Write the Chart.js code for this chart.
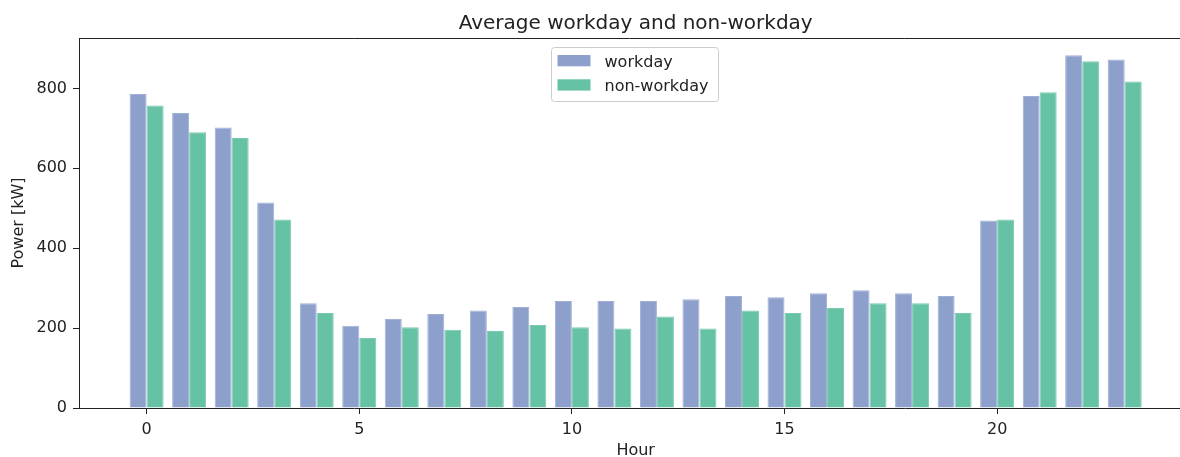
<!DOCTYPE html>
<html>
<head>
<meta charset="utf-8">
<script src="https://cdn.jsdelivr.net/npm/chart.js@4/dist/chart.umd.min.js"></script>
<style>
    html, body { margin: 0; padding: 0; overflow: hidden; background: #fff; }
    canvas { display: block; }
</style>
</head>
<body>
<canvas id="grafico-potencia" width="1180" height="457"></canvas>
<script>
// Dados
const hours = [0, 1, 2, 3, 4, 5, 6, 7, 8, 9, 10, 11, 12, 13, 14, 15, 16, 17, 18, 19, 20, 21, 22, 23]
const workday = [786, 738, 702, 514, 262, 206, 223, 235, 244, 253, 268, 268, 268, 272, 280, 277, 287, 295, 287, 280, 469, 781, 883, 872]
const nonWorkday = [757, 690, 676, 472, 238, 175, 202, 196, 193, 208, 202, 199, 229, 199, 244, 238, 250, 262, 262, 238, 472, 790, 868, 817]
const xTicks = [0, 5, 10, 15, 20]
const yTicks = [0, 200, 400, 600, 800]
const seriesLabels = ['workday', 'non-workday']
const seriesColors = ['#8da0cb', '#66c2a5']
const seriesBorders = ['#a0b0d4', '#7bcab0']
const chartTitle = 'Average workday and non-workday'
const xTitle = 'Hour'
const yTitle = 'Power [kW]'

const textColor = '#222'
Chart.defaults.font.family = '"DejaVu Sans", sans-serif'
Chart.defaults.font.size = 16
Chart.defaults.color = textColor

// Titulo, borda de cima, nome do eixo x e legenda
// (o grafico original esta cortado na direita, entao o centro vem do meio das horas)
const extrasPlugin = {
    id: 'extras',
    afterDraw(chart) {
        const { ctx, chartArea } = chart
        const midHour = (hours[0] + hours[hours.length - 1]) / 2
        const centerX = chart.scales.x.getPixelForValue(midHour)
        ctx.save()

        ctx.strokeStyle = textColor
        ctx.lineWidth = 1
        ctx.beginPath()
        ctx.moveTo(chartArea.left, chartArea.top + 0.5)
        ctx.lineTo(chartArea.right, chartArea.top + 0.5)
        ctx.stroke()

        ctx.fillStyle = textColor
        ctx.font = '20px "DejaVu Sans"'
        ctx.textAlign = 'center'
        ctx.textBaseline = 'alphabetic'
        ctx.fillText(chartTitle, centerX, 29)

        ctx.font = '16px "DejaVu Sans"'
        ctx.fillText(xTitle, centerX, 455)

        // legenda
        const boxW = 167, boxH = 54
        const boxX = Math.round(centerX - boxW / 2) - 0.5
        const boxY = chartArea.top + 9.5
        ctx.beginPath()
        ctx.roundRect(boxX, boxY, boxW, boxH, 3)
        ctx.fillStyle = 'rgba(255,255,255,0.8)'
        ctx.fill()
        ctx.strokeStyle = '#cccccc'
        ctx.stroke()

        ctx.textAlign = 'left'
        chart.data.datasets.forEach((ds, i) => {
            const rowY = boxY + 7.5 + i * 24.3
            ctx.fillStyle = ds.backgroundColor
            ctx.fillRect(boxX + 6, rowY, 33, 11.3)
            ctx.fillStyle = textColor
            ctx.fillText(ds.label, boxX + 53, rowY + 11.5)
        })

        ctx.restore()
    }
}

let myChartPotencia = new Chart(
    document.getElementById('grafico-potencia'),
    {
        type: 'bar',
        data: {
            datasets: [
                {
                    label: seriesLabels[0],
                    data: hours.map((h, i) => ({ x: h, y: workday[i] })),
                    backgroundColor: seriesColors[0],
                    borderColor: seriesBorders[0],
                    borderWidth: 1,
                },
                {
                    label: seriesLabels[1],
                    data: hours.map((h, i) => ({ x: h, y: nonWorkday[i] })),
                    backgroundColor: seriesColors[1],
                    borderColor: seriesBorders[1],
                    borderWidth: 1,
                }
            ]
        },
        options: {
            responsive: false,
            animation: false,
            devicePixelRatio: 1,
            layout: { padding: { top: 38, right: 0, left: 0, bottom: 0 } },
            datasets: { bar: { categoryPercentage: 0.8, barPercentage: 1 } },
            plugins: {
                legend: { display: false },
                tooltip: { enabled: false }
            },
            scales: {
                x: {
                    type: 'linear',
                    min: -1.59,
                    max: 24.3,
                    offset: false,
                    grid: { drawOnChartArea: false, tickLength: 6, tickColor: textColor, offset: false },
                    border: { display: true, color: textColor, width: 1 },
                    ticks: { padding: 6, maxRotation: 0, autoSkip: false },
                    afterBuildTicks: scale => { scale.ticks = xTicks.map(v => ({ value: v })) },
                    afterFit: scale => { scale.height = 49 }
                },
                y: {
                    min: 0,
                    max: 926,
                    grid: { drawOnChartArea: false, tickLength: 6, tickColor: textColor },
                    border: { display: true, color: textColor, width: 1 },
                    ticks: { padding: 6 },
                    afterBuildTicks: scale => { scale.ticks = yTicks.map(v => ({ value: v })) },
                    afterFit: scale => { scale.width = 79 },
                    title: {
                        display: true,
                        text: yTitle,
                        font: { size: 16, lineHeight: 1 },
                        padding: { top: 10.7, bottom: 0 }
                    }
                }
            }
        },
        plugins: [extrasPlugin]
    }
)
</script>
</body>
</html>
